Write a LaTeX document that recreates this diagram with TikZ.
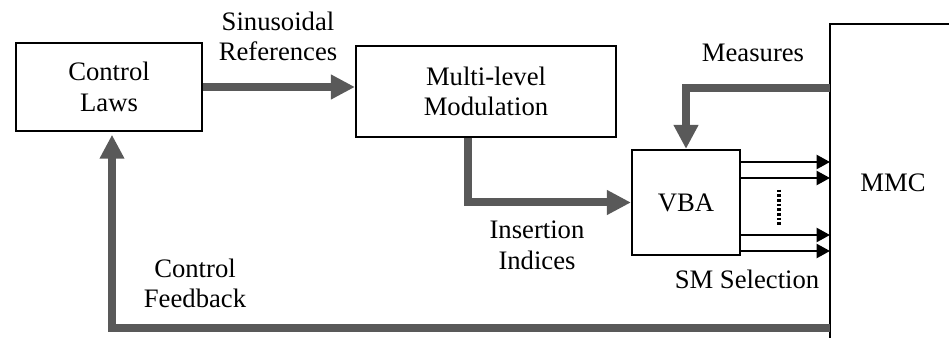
\documentclass[tikz,border=0pt]{standalone}
\usepackage{fontspec}
\setmainfont{Liberation Serif}
\usetikzlibrary{arrows.meta,calc}
\definecolor{arrowgray}{RGB}{89,89,89}
\tikzset{
  px/.style={x=0.75pt,y=-0.75pt},
  box/.style={draw=black,line width=1.6pt,align=center,font=\fontsize{20}{23}\selectfont,inner sep=0pt},
  lbl/.style={align=center,font=\fontsize{20}{23}\selectfont,inner sep=0pt},
  garrow/.style={draw=arrowgray,line width=6pt,-{Triangle[length=18pt,width=17.5pt]}},
  barrow/.style={draw=black,line width=1.6pt,-{Triangle[length=10pt,width=10.5pt]}}
}
\begin{document}
\begin{tikzpicture}[px]
\useasboundingbox (0,0) rectangle (949,338);
% boxes
\node[box,minimum width=139.5pt,minimum height=66pt] (cl) at (109,87) {Control\\Laws};
\node[box,minimum width=195pt,minimum height=68pt] (ml) at (486,91.5) {Multi-level\\Modulation};
\node[box,minimum width=81pt,minimum height=78.75pt] (vba) at (686,202.5) {VBA};
% MMC (open box)
\coordinate (mmctl) at (830,24);
\coordinate (mmcbl) at (830,338);
\coordinate (mmctr) at (949,24);
\draw[line width=1.6pt] (mmctr) -- (mmctl) -- (mmcbl);
\node[lbl,anchor=base] (mmc) at (893,192) {MMC};
% gray arrows
\draw[garrow] (cl.east) -- (cl.east -| ml.west);
\draw[garrow] ([xshift=-13.5pt]ml.south) |- (vba.west);
\coordinate (meas) at (mmctl |- 0,88);
\draw[garrow] (meas) -| (vba.north);
\coordinate (fb) at (mmctl |- 0,328);
\draw[garrow,shorten >=2pt] (fb) -| ([xshift=2.25pt]cl.south);
% black arrows
\foreach \y [count=\i] in {162,178,235,251}{
  \coordinate (s\i) at (vba.east |- 0,\y);
  \draw[barrow] (s\i) -- (s\i -| mmctl);
}
\node[inner sep=0pt,minimum width=0pt,minimum height=26.25pt] (dots) at (779,207.5) {};
\draw[line width=2.6pt,dash pattern=on 2pt off 1.5pt] (dots.north) -- (dots.south);
% labels
\node[lbl] (sin) at (278,36.5) {Sinusoidal\\References};
\node[lbl] (ins) at (537,245) {Insertion\\Indices};
\node[lbl] (cf) at (195,283.5) {Control\\Feedback};
\node[lbl,anchor=base] (meas-l) at (753,62) {Measures};
\node[lbl,anchor=base] (sms) at (747,288) {SM Selection};
\end{tikzpicture}
\end{document}
